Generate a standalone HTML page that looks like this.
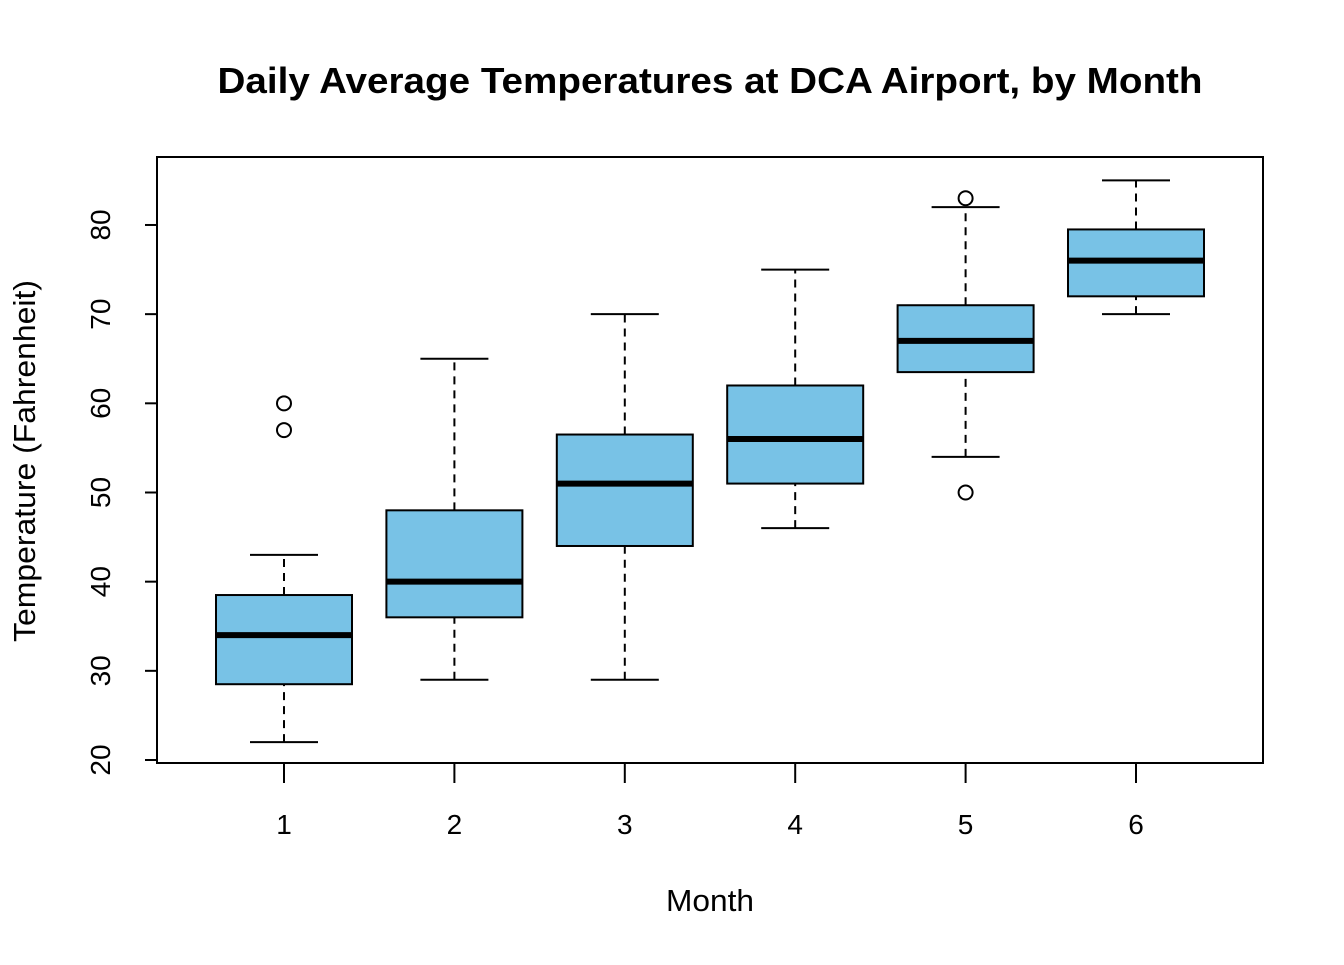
<!DOCTYPE html>
<html><head><meta charset="utf-8"><style>
body{margin:0;background:#fff;}
svg text{font-family:"Liberation Sans",Arial,sans-serif;fill:#000;}
</style></head><body>
<svg id="chart" width="1344" height="960" xmlns="http://www.w3.org/2000/svg">
<text x="710" y="93" text-anchor="middle" font-size="36" font-weight="bold" textLength="985" lengthAdjust="spacingAndGlyphs">Daily Average Temperatures at DCA Airport, by Month</text>
<rect x="157" y="157" width="1106" height="606" fill="none" stroke="#000" stroke-width="2"/>
<text x="710" y="911" text-anchor="middle" font-size="31" textLength="88" lengthAdjust="spacingAndGlyphs">Month</text>
<text transform="translate(35,461) rotate(-90)" text-anchor="middle" font-size="31" textLength="362" lengthAdjust="spacingAndGlyphs">Temperature (Fahrenheit)</text>
<g id="axes"></g><g id="boxes"></g>
</svg>
<script>
const months=[1,2,3,4,5,6];
const whiskerLow=[22,29,29,46,54,70];
const q1=[28.5,36,44,51,63.5,72];
const medians=[34,40,51,56,67,76];
const q3=[38.5,48,56.5,62,71,79.5];
const whiskerHigh=[43,65,70,75,82,85];
const outliers=[[57,60],[],[],[],[50,83],[]];
const yTicks=[20,30,40,50,60,70,80];
const NS="http://www.w3.org/2000/svg";
function X(i){return 284+(i-1)*170.4;}
function Y(v){return 760-(v-20)*8.917;}
function mk(tag,attrs,parent,text){const e=document.createElementNS(NS,tag);for(const k in attrs)e.setAttribute(k,attrs[k]);if(text!==undefined)e.textContent=text;parent.appendChild(e);return e;}
const ax=document.getElementById('axes'),bx=document.getElementById('boxes');
yTicks.forEach(t=>{
 const l=mk('line',{x1:145,x2:157,y1:Y(t),y2:Y(t),stroke:'#000','stroke-width':2},ax);
 
 
 const tx=mk('text',{transform:`translate(110,${Y(t)}) rotate(-90)`,'text-anchor':'middle','font-size':28},ax,String(t));
 
 
});
months.forEach((m,i)=>{
 const x=X(m);
 const l=mk('line',{x1:x,x2:x,y1:763,y2:783,stroke:'#000','stroke-width':2},ax);
 
 
 const tx=mk('text',{x:x,y:834,'text-anchor':'middle','font-size':28},ax,String(m));
 
 
 const g=mk('g',{},bx);
 
 
 mk('line',{x1:x,x2:x,y1:Y(whiskerLow[i]),y2:Y(q1[i]),stroke:'#000','stroke-width':2,'stroke-dasharray':'8,6'},g);
 mk('line',{x1:x,x2:x,y1:Y(q3[i]),y2:Y(whiskerHigh[i]),stroke:'#000','stroke-width':2,'stroke-dasharray':'8,6'},g);
 mk('line',{x1:x-34,x2:x+34,y1:Y(whiskerLow[i]),y2:Y(whiskerLow[i]),stroke:'#000','stroke-width':2},g);
 mk('line',{x1:x-34,x2:x+34,y1:Y(whiskerHigh[i]),y2:Y(whiskerHigh[i]),stroke:'#000','stroke-width':2},g);
 mk('rect',{x:x-68,y:Y(q3[i]),width:136,height:Y(q1[i])-Y(q3[i]),fill:'#78c2e6',stroke:'#000','stroke-width':2},g);
 mk('line',{x1:x-68,x2:x+68,y1:Y(medians[i]),y2:Y(medians[i]),stroke:'#000','stroke-width':6},g);
 outliers[i].forEach(o=>{
  const c=mk('circle',{cx:x,cy:Y(o),r:7,fill:'none',stroke:'#000','stroke-width':2},g);
  
  
 });
});
</script>
</body></html>
